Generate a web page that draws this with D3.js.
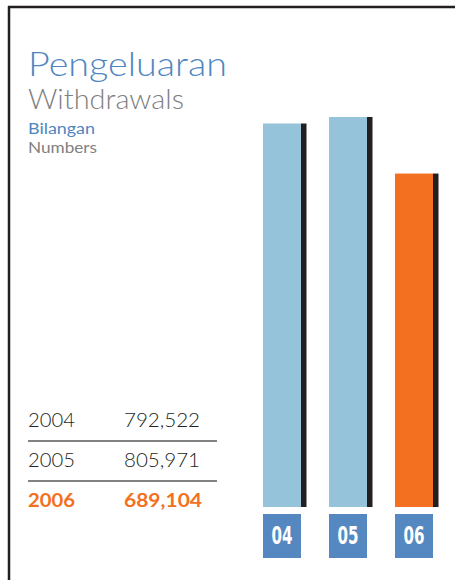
<!DOCTYPE html>
<html><head><meta charset="utf-8">
<script src="https://cdn.jsdelivr.net/npm/d3@7"></script>
<style>html,body{margin:0;padding:0;background:#fff;}svg{display:block;}</style>
</head><body>
<script>
const years = ["2004", "2005", "2006"];
const labels = ["04", "05", "06"];
const values = [792522, 805971, 689104];
const highlight = [false, false, true];

const W = 455, H = 580;
const svg = d3.select("body").append("svg").attr("width", W).attr("height", H);
const font = "'Lato', 'Noto Sans', sans-serif";

function txt(s, xPos, yPos, size, fill, len, weight) {
  const t = svg.append("text").attr("x", xPos).attr("y", yPos).text(s)
    .attr("font-family", font).attr("font-size", size).attr("fill", fill)
    .attr("font-weight", weight || 300);
  if (len) t.attr("textLength", len).attr("lengthAdjust", "spacingAndGlyphs");
  return t;
}

// frame
svg.append("line").attr("x1", 8).attr("x2", W).attr("y1", 7).attr("y2", 7).attr("stroke", "#231f20").attr("stroke-width", 2.5);
svg.append("line").attr("x1", 9).attr("x2", 9).attr("y1", 6).attr("y2", H).attr("stroke", "#231f20").attr("stroke-width", 2.5);

// titles
txt("Pengeluaran", 28, 76, 33, "#4f86c1", 199, 300);
txt("Withdrawals", 28, 109, 27, "#808080", 156, 300);
txt("Bilangan", 28, 134, 14.5, "#4f86c1", 67, 400);
txt("Numbers", 28, 153, 14.5, "#808080", 69, 400);

// scales
const x = d3.scaleBand().domain(labels).range([249, 447]).paddingInner(28/66).paddingOuter(14/66);
const y = d3.scaleLinear().domain([0, 805971]).range([507, 117]);

const g = svg.append("g");
labels.forEach((l, i) => {
  g.append("rect").attr("x", x(l) + x.bandwidth()).attr("y", y(values[i])).attr("width", 5.5)
    .attr("height", y(0) - y(values[i])).attr("fill", "#231f20");
  g.append("rect").attr("x", x(l)).attr("y", y(values[i])).attr("width", x.bandwidth())
    .attr("height", y(0) - y(values[i])).attr("fill", highlight[i] ? "#f37021" : "#94c3da");
  g.append("rect").attr("x", x(l)).attr("y", 514).attr("width", x.bandwidth()).attr("height", 44).attr("fill", "#5588c0");
  g.append("text").attr("x", x(l) + 8.5).attr("y", 543.5)
    .attr("font-family", "'DejaVu Sans Condensed', 'Liberation Sans Narrow', sans-serif").attr("font-weight", "bold")
    .attr("font-size", 24.5).attr("fill", "#fff").attr("textLength", 21).attr("lengthAdjust", "spacingAndGlyphs").text(l);
});

// table
const fmt = d3.format(",");
const rowBase = [427, 467, 507];
years.forEach((yr, i) => {
  const c = highlight[i] ? "#f37021" : "#231f20";
  const fw = highlight[i] ? 700 : 300;
  txt(yr, 28, rowBase[i], 19, c, 47, fw);
  txt(fmt(values[i]), 124, rowBase[i], 19, c, highlight[i] ? 78 : 76, fw);
  if (i < years.length - 1) {
    svg.append("line").attr("x1", 28).attr("x2", 217).attr("y1", rowBase[i] + 14).attr("y2", rowBase[i] + 14).attr("stroke", "#58595b").attr("stroke-width", 1.3);
  }
});
</script>
</body></html>
